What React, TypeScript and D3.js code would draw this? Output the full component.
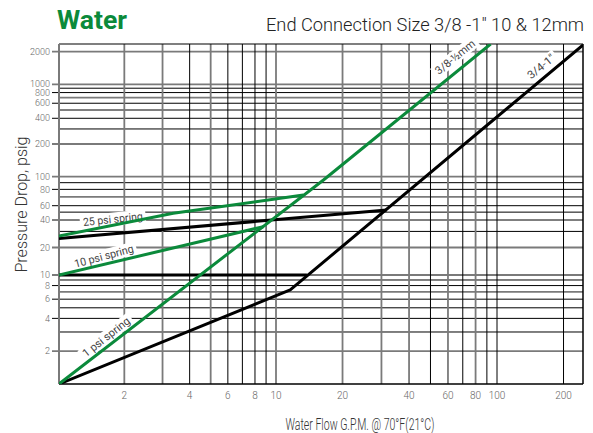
import React from 'react';
import * as d3 from 'd3';

// ---- data ----
const X_TICKS = [2, 4, 6, 8, 10, 20, 40, 60, 80, 100, 200];
const Y_TICKS = [2, 4, 6, 8, 10, 20, 40, 60, 80, 100, 200, 400, 600, 800, 1000, 2000];
const X_GRID = [2, 3, 4, 5, 6, 7, 8, 9, 10, 20, 30, 40, 50, 60, 70, 80, 90, 100, 200];
const X_GRID_GRAY = [2, 3, 5, 10, 20, 30, 40, 60, 80];
const Y_GRID = [2, 3, 4, 5, 6, 7, 8, 9, 10, 20, 30, 40, 50, 60, 70, 80, 90, 100, 200, 300, 400, 500, 600, 700, 800, 900, 1000, 2000];
const Y_GRID_GRAY = [2, 7, 10, 20, 70, 100, 200, 700, 1000, 2000];

// series: [flow GPM, pressure drop psig]
const green1psi: [number, number][] = [[1, 1], [16.4, 94.4], [93.6, 2355]];
const green10psi: [number, number][] = [[1, 10], [8.74, 33.8]];
const green25psi: [number, number][] = [[1, 26.7], [3.36, 48.4], [13.3, 72.4]];
const black1psi: [number, number][] = [[1, 1], [11.6, 7.3], [245, 2306]];
const black10psi: [number, number][] = [[1, 10], [13.8, 10]];
const black25psi: [number, number][] = [[1, 25.1], [31.7, 53.1]];

const springLabels = [
  { text: '25 psi spring', x: 1.77, y: 41.0, angle: -6, len: 60 },
  { text: '10 psi spring', x: 1.61, y: 16.1, angle: -15, len: 61 },
  { text: '1 psi spring', x: 1.65, y: 2.7, angle: -38, len: 57 },
];
const sizeLabels = [
  { text: '3/8-½mm', x: 64.6, y: 1787, angle: -39, len: 48 },
  { text: '3/4-1"', x: 158, y: 1460, angle: -39, len: 32 },
];

const GREEN = '#0b8a3b';
const GRAY = '#7a7a7a';

export default function App() {
  const left = 59, right = 583, top = 44, bottom = 384;
  // the printed chart's log axes are slightly uneven; calibrated piecewise log scales
  const x = d3.scaleLog().domain([1, 10, 100, 245]).range([left, 276, 497, right]);
  const y = d3.scaleLog()
    .domain([1, 10, 40, 60, 100, 200, 1000, 2000, 2355])
    .range([bottom, 275, 220, 205.7, 176.7, 144, 84.3, 51.7, top]);

  const line = d3.line<[number, number]>().x(d => x(d[0])).y(d => y(d[1]));

  const font = 'Roboto, "Liberation Sans", sans-serif';

  return (
    <svg width={593} height={433} style={{ position: 'absolute', left: 0, top: 0, background: '#fff' }}
      fontFamily={font}>
      <defs>
        <clipPath id="plot"><rect x={left} y={top} width={right - left} height={bottom - top} /></clipPath>
      </defs>
      <text x={57} y={29} fill={GREEN} fontSize={26} fontWeight={700}
        textLength={70} lengthAdjust="spacingAndGlyphs">Water</text>
      <text x={584} y={31} textAnchor="end" fill="#222" fontSize={18} fontWeight={300}
        textLength={318} lengthAdjust="spacingAndGlyphs">End Connection Size 3/8 -1" 10 &amp; 12mm</text>

      {/* horizontal grid */}
      {Y_GRID.map(v => {
        const gray = Y_GRID_GRAY.includes(v);
        const labeled = Y_TICKS.includes(v);
        return (
          <line key={'h' + v} x1={labeled ? 52 : left} x2={right} y1={y(v)} y2={y(v)}
            stroke={gray ? GRAY : '#000'} strokeWidth={gray ? 1.8 : 1} />
        );
      })}
      {/* vertical grid */}
      {X_GRID.map(v => {
        const gray = X_GRID_GRAY.includes(v);
        return (
          <line key={'v' + v} x1={x(v)} x2={x(v)} y1={top} y2={bottom}
            stroke={gray ? GRAY : '#000'} strokeWidth={gray ? 1.8 : 1} />
        );
      })}
      {/* frame */}
      <line x1={left} x2={right} y1={top} y2={top} stroke="#000" strokeWidth={1.2} />
      <line x1={left} x2={right} y1={bottom} y2={bottom} stroke="#000" strokeWidth={1.5} />
      <line x1={right} x2={right} y1={top} y2={bottom} stroke="#000" strokeWidth={1.5} />
      <line x1={left} x2={left} y1={top} y2={bottom} stroke={GRAY} strokeWidth={2} />

      {/* labels with white backgrounds */}
      {[...springLabels, ...sizeLabels].map(l => (
        <g key={l.text} transform={`translate(${x(l.x)},${y(l.y)}) rotate(${l.angle})`}>
          <rect x={-l.len / 2 - 3} y={-6.5} width={l.len + 6} height={13} fill="#fff" />
          <text x={0} y={0} dy="0.35em" textAnchor="middle" fontSize={11} fill="#444"
            textLength={l.len} lengthAdjust="spacingAndGlyphs">{l.text}</text>
        </g>
      ))}

      {/* series */}
      <g clipPath="url(#plot)" fill="none" strokeLinejoin="round" strokeLinecap="butt">
        <path d={line(black1psi) || ''} stroke="#000" strokeWidth={3} />
        <path d={line(black10psi) || ''} stroke="#000" strokeWidth={3.2} />
        <path d={line(black25psi) || ''} stroke="#000" strokeWidth={3} />
        <path d={line(green1psi) || ''} stroke={GREEN} strokeWidth={3} />
        <path d={line(green10psi) || ''} stroke={GREEN} strokeWidth={3} />
        <path d={line(green25psi) || ''} stroke={GREEN} strokeWidth={3} />
      </g>

      {/* tick labels */}
      {X_TICKS.map(v => (
        <text key={'xt' + v} x={x(v)} y={399} textAnchor="middle" fontSize={10} fill="#666" fontWeight={300}>{v}</text>
      ))}
      {Y_TICKS.map(v => (
        <text key={'yt' + v} x={50} y={y(v)} dy="0.35em" textAnchor="end" fontSize={9} fill="#666" fontWeight={300}>{v}</text>
      ))}

      <text transform="translate(21,204.5) rotate(-90)" textAnchor="middle" dy="0.35em" fontSize={16}
        fontWeight={300} fill="#333" textLength={136} lengthAdjust="spacingAndGlyphs">Pressure Drop, psig</text>
      <text x={360} y={430} textAnchor="middle" fontSize={17} fontWeight={300} fill="#333"
        textLength={149} lengthAdjust="spacingAndGlyphs">Water Flow G.P.M. @ 70°F(21°C)</text>
    </svg>
  );
}
